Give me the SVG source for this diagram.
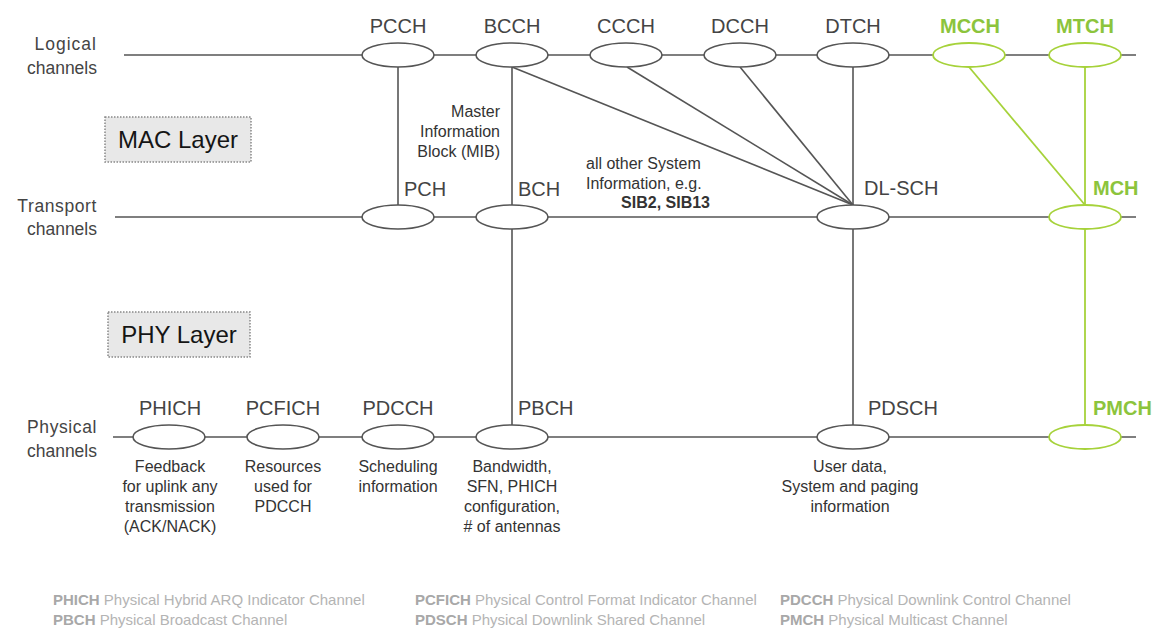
<svg xmlns="http://www.w3.org/2000/svg" width="1155" height="628" viewBox="0 0 1155 628">
<style>
text{font-family:"Liberation Sans",Arial,sans-serif}
.axis{font-size:17.5px;fill:#444;text-anchor:end}
.nl{font-size:20px;fill:#444}
.ng{font-size:20px;fill:#8cc43c;font-weight:bold}
.ds{font-size:16px;fill:#333;text-anchor:middle}
.nt{font-size:16px;fill:#333}
.ln{stroke:#555;stroke-width:1.6;fill:none}
.lg{stroke:#a6d23a;stroke-width:1.8;fill:none}
.el{fill:#fff;stroke:#555;stroke-width:1.6}
.eg{fill:#fff;stroke:#a6d23a;stroke-width:1.8}
.box{fill:#e8e8e8;stroke:#888;stroke-width:1.5;stroke-dasharray:1.5 1.5}
.bt{font-size:24px;fill:#151515;text-anchor:middle}
.leg{font-size:15px;fill:#b4b4b4}
.legb{font-weight:bold;fill:#a8a8a8}
</style>
<rect width="1155" height="628" fill="#fff"/>
<g id="axis-labels">
<text class="axis" x="97" y="50" letter-spacing="1">Logical</text>
<text class="axis" x="97" y="74">channels</text>
<text class="axis" x="97" y="212" letter-spacing="0.6">Transport</text>
<text class="axis" x="97" y="235">channels</text>
<text class="axis" x="97" y="433" letter-spacing="0.6">Physical</text>
<text class="axis" x="97" y="457">channels</text>
</g>
<g id="layers">
<g id="mac-layer"><rect class="box" x="105" y="117" width="146" height="45"/><text class="bt" x="178" y="148">MAC Layer</text></g>
<g id="phy-layer"><rect class="box" x="108" y="312" width="142" height="45"/><text class="bt" x="179" y="343">PHY Layer</text></g>
</g>
<g id="connectors">
<line class="ln" x1="124" y1="55" x2="1136" y2="55"/>
<line class="ln" x1="115" y1="217" x2="1136" y2="217"/>
<line class="ln" x1="113" y1="437" x2="1136" y2="437"/>
<line class="ln" x1="398" y1="67" x2="398" y2="205"/>
<line class="ln" x1="512" y1="67" x2="512" y2="425"/>
<line class="ln" x1="853" y1="67" x2="853" y2="425"/>
<line class="ln" x1="512" y1="67" x2="853" y2="205"/>
<line class="ln" x1="627" y1="67" x2="853" y2="205"/>
<line class="ln" x1="740" y1="67" x2="853" y2="205"/>
<line class="lg" x1="969" y1="67" x2="1085" y2="205"/>
<line class="lg" x1="1085" y1="67" x2="1085" y2="425"/>
</g>
<g id="PCCH"><ellipse class="el" cx="398" cy="55" rx="36" ry="12"/><text class="nl" x="398" y="33" text-anchor="middle">PCCH</text></g>
<g id="BCCH"><ellipse class="el" cx="512" cy="55" rx="36" ry="12"/><text class="nl" x="512" y="33" text-anchor="middle">BCCH</text></g>
<g id="CCCH"><ellipse class="el" cx="626" cy="55" rx="36" ry="12"/><text class="nl" x="626" y="33" text-anchor="middle">CCCH</text></g>
<g id="DCCH"><ellipse class="el" cx="740" cy="55" rx="36" ry="12"/><text class="nl" x="740" y="33" text-anchor="middle">DCCH</text></g>
<g id="DTCH"><ellipse class="el" cx="853" cy="55" rx="36" ry="12"/><text class="nl" x="853" y="33" text-anchor="middle">DTCH</text></g>
<g id="MCCH"><ellipse class="eg" cx="969" cy="55" rx="36" ry="12"/><text class="ng" x="970" y="33" text-anchor="middle">MCCH</text></g>
<g id="MTCH"><ellipse class="eg" cx="1085" cy="55" rx="36" ry="12"/><text class="ng" x="1085" y="33" text-anchor="middle">MTCH</text></g>
<g id="PCH"><ellipse class="el" cx="398" cy="217" rx="36" ry="12"/><text class="nl" x="404" y="196">PCH</text></g>
<g id="BCH"><ellipse class="el" cx="512" cy="217" rx="36" ry="12"/><text class="nl" x="518" y="196">BCH</text></g>
<g id="DL-SCH"><ellipse class="el" cx="853" cy="217" rx="36" ry="12"/><text class="nl" x="864" y="195">DL-SCH</text></g>
<g id="MCH"><ellipse class="eg" cx="1085" cy="217" rx="36" ry="12"/><text class="ng" x="1093" y="195">MCH</text></g>
<g id="PHICH"><ellipse class="el" cx="169" cy="437" rx="36" ry="12"/><text class="nl" x="170" y="415" text-anchor="middle">PHICH</text>
<text class="ds" x="170" y="472">Feedback</text><text class="ds" x="170" y="492">for uplink any</text><text class="ds" x="170" y="512">transmission</text><text class="ds" x="170" y="532">(ACK/NACK)</text></g>
<g id="PCFICH"><ellipse class="el" cx="283" cy="437" rx="36" ry="12"/><text class="nl" x="283" y="415" text-anchor="middle">PCFICH</text>
<text class="ds" x="283" y="472">Resources</text><text class="ds" x="283" y="492">used for</text><text class="ds" x="283" y="512">PDCCH</text></g>
<g id="PDCCH"><ellipse class="el" cx="398" cy="437" rx="36" ry="12"/><text class="nl" x="398" y="415" text-anchor="middle">PDCCH</text>
<text class="ds" x="398" y="472">Scheduling</text><text class="ds" x="398" y="492">information</text></g>
<g id="PBCH"><ellipse class="el" cx="512" cy="437" rx="36" ry="12"/><text class="nl" x="518" y="415">PBCH</text>
<text class="ds" x="512" y="472">Bandwidth,</text><text class="ds" x="512" y="492">SFN, PHICH</text><text class="ds" x="512" y="512">configuration,</text><text class="ds" x="512" y="532"># of antennas</text></g>
<g id="PDSCH"><ellipse class="el" cx="853" cy="437" rx="36" ry="12"/><text class="nl" x="868" y="415">PDSCH</text>
<text class="ds" x="850" y="472">User data,</text><text class="ds" x="850" y="492">System and paging</text><text class="ds" x="850" y="512">information</text></g>
<g id="PMCH"><ellipse class="eg" cx="1085" cy="437" rx="36" ry="12"/><text class="ng" x="1093" y="415">PMCH</text></g>
<g id="notes">
<text class="nt" x="500" y="117" text-anchor="end">Master</text>
<text class="nt" x="500" y="137" text-anchor="end">Information</text>
<text class="nt" x="500" y="157" text-anchor="end">Block (MIB)</text>
<text class="nt" x="586" y="169">all other System</text>
<text class="nt" x="586" y="189">Information, e.g.</text>
<text class="nt" x="710" y="208" text-anchor="end" font-weight="bold">SIB2, SIB13</text>
</g>
<g id="legend">
<text class="leg" x="53" y="605"><tspan class="legb">PHICH</tspan> Physical Hybrid ARQ Indicator Channel</text>
<text class="leg" x="53" y="625"><tspan class="legb">PBCH</tspan> Physical Broadcast Channel</text>
<text class="leg" x="415" y="605"><tspan class="legb">PCFICH</tspan> Physical Control Format Indicator Channel</text>
<text class="leg" x="415" y="625"><tspan class="legb">PDSCH</tspan> Physical Downlink Shared Channel</text>
<text class="leg" x="780" y="605"><tspan class="legb">PDCCH</tspan> Physical Downlink Control Channel</text>
<text class="leg" x="780" y="625"><tspan class="legb">PMCH</tspan> Physical Multicast Channel</text>
</g>
</svg>
